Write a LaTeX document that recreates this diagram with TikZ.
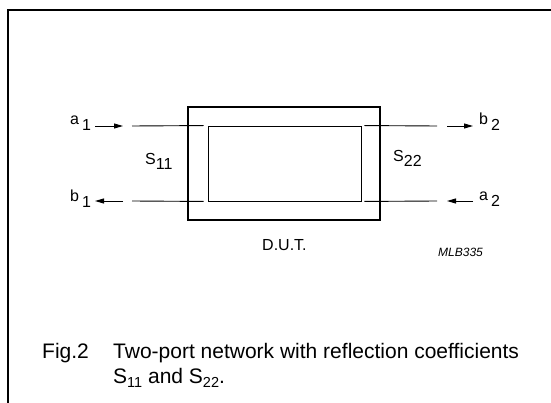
\documentclass[tikz,border=0pt]{standalone}
\usepackage{fontspec}
\setmainfont{Liberation Sans}
\usetikzlibrary{positioning, calc, arrows.meta}
\tikzset{
  flow/.style={-{Triangle[length=9pt,width=5pt]}, line width=0.9pt},
  wire/.style={line width=0.9pt},
  lbl/.style={font=\fontsize{16}{18}\selectfont, inner sep=0pt, anchor=base west},
  caption/.style={font=\fontsize{21}{25}\selectfont, inner sep=0pt, anchor=base west},
}
\newcommand{\portsub}[2]{#1\hspace{3pt}\raisebox{-6pt}{#2}}
\newcommand{\capsub}[1]{\raisebox{-4pt}{\fontsize{14.5}{14.5}\selectfont #1}}

\begin{document}
\begin{tikzpicture}[x=1pt,y=-1pt,line cap=butt]
		\useasboundingbox (0,0) rectangle (551,403);
		%cornice
		\draw[line width=2pt] (8,403) -- (8,10) -- (551,10);

		%blocco D.U.T.
		\node[draw, line width=2.4pt, minimum width=192pt, minimum height=113pt, inner sep=0pt] (dut) at (284,163.5) {};
		\node[draw, line width=0.9pt, minimum width=153pt, minimum height=75pt, inner sep=0pt] (core) at (284.5,163.5) {};

		%linee porta 1
		\coordinate (p1top) at (132,126);
		\coordinate (p1bot) at (132,201);
		\draw[wire] (p1top) -- ([xshift=-4pt]core.north west);
		\draw[wire] (p1bot) -- ([xshift=-4pt]core.south west);
		%linee porta 2
		\coordinate (p2top) at (437,126);
		\coordinate (p2bot) at (437,201);
		\draw[wire] ([xshift=3pt]core.north east) -- (p2top);
		\draw[wire] ([xshift=3pt]core.south east) -- (p2bot);

		%onde incidenti e riflesse
		\coordinate (a1s) at (95,126);  \coordinate (a1e) at (123,126);
		\coordinate (b1s) at (123,201); \coordinate (b1e) at (95,201);
		\coordinate (b2s) at (447,126); \coordinate (b2e) at (473,126);
		\coordinate (a2s) at (473,201); \coordinate (a2e) at (447,201);
		\draw[flow] (a1s) -- (a1e);
		\draw[flow] (b1s) -- (b1e);
		\draw[flow] (b2s) -- (b2e);
		\draw[flow] (a2s) -- (a2e);

		%etichette
		\node[lbl] (a1) at (70,125) {\portsub{a}{1}};
		\node[lbl] (b1) at (70,202) {\portsub{b}{1}};
		\node[lbl] (b2) at (479,125) {\portsub{b}{2}};
		\node[lbl] (a2) at (479,201) {\portsub{a}{2}};
		\node[lbl] (s11) at (145,165) {S\raisebox{-5pt}{11}};
		\node[lbl] (s22) at (393,162) {S\raisebox{-5pt}{22}};
		\node[lbl, font=\fontsize{16}{18}\selectfont] (dutlbl) at (262,251) {D.U.T.};
		\node[lbl, font=\fontsize{12}{14}\selectfont\itshape] (code) at (438,257) {MLB335};

		%didascalia
		\node[caption] (fig) at (42,358) {Fig.2};
		\node[caption] (cap1) at (113,358) {Two-port network with reflection coefficients};
		\node[caption] (cap2) at (113,383) {S\capsub{11} and S\capsub{22}.};
\end{tikzpicture}
\end{document}
